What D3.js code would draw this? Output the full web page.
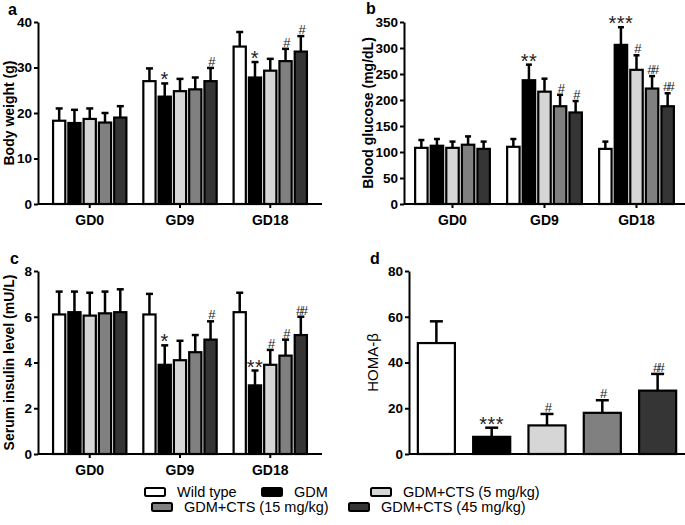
<!DOCTYPE html>
<html><head><meta charset="utf-8">
<script src="https://cdn.jsdelivr.net/npm/d3@7"></script>
<style>body{margin:0;background:#fff}svg{display:block}text{font-family:"Liberation Sans",Arial,sans-serif}</style>
</head><body><svg id="c" width="685" height="525"></svg>
<script>
const groups = ["GD0","GD9","GD18"];
const series = ["Wild type","GDM","GDM+CTS (5 mg/kg)","GDM+CTS (15 mg/kg)","GDM+CTS (45 mg/kg)"];
const fills = ["#ffffff","#000000","#d6d6d6","#808080","#353535"];

// panel a: body weight (g) — values[group][series]
const bwMean = [[18.3,17.8,18.7,17.9,19.0],[27.0,23.6,24.8,25.2,27.0],[34.6,27.8,29.3,31.4,33.5]];
const bwErr  = [[2.7,2.9,2.3,2.1,2.5],[2.8,2.9,2.7,2.6,2.9],[3.2,3.4,2.6,2.7,3.4]];
const bwSig  = [["","","","",""],["","*","","","#"],["","*","","#","#"]];
// panel b: blood glucose (mg/dL)
const bgMean = [[108,112,108,114,106],[110,238,216,188,176],[106,306,258,222,188]];
const bgErr  = [[15,13,12,16,14],[15,30,25,22,22],[14,34,28,24,25]];
const bgSig  = [["","","","",""],["","**","","#","#"],["","***","#","##","##"]];
// panel c: serum insulin level (mU/L)
const siMean = [[6.1,6.2,6.05,6.15,6.2],[6.1,3.9,4.1,4.45,5.0],[6.2,3.0,3.9,4.3,5.2]];
const siErr  = [[1.0,0.9,1.0,0.95,1.0],[0.9,0.85,0.85,0.75,0.8],[0.85,0.65,0.65,0.7,0.8]];
const siSig  = [["","","","",""],["","*","","","#"],["","**","#","#","##"]];
// panel d: HOMA-β
const hbMean = [48.5,7.5,12.5,18.0,27.7];
const hbErr  = [9.5,4.0,5.0,5.5,7.3];
const hbSig  = ["","***","#","#","##"];

const svg = d3.select("#c");

function yAxis(g, y, ticks){
  const ax = g.append("g").call(d3.axisLeft(y).tickValues(ticks).tickSize(4).tickPadding(2).tickSizeOuter(0));
  ax.select(".domain").attr("stroke","#000").attr("stroke-width",2);
  ax.selectAll(".tick line").attr("stroke","#000").attr("stroke-width",2);
  ax.selectAll(".tick text").attr("font-size",13.5).attr("font-weight","bold").attr("fill","#000");
  return ax;
}

function sigLabel(g, cx, capY, sg){
  if(!sg) return;
  const star = sg[0]==="*";
  g.append("text").attr("x",cx).attr("y",star ? capY+3 : capY-2).attr("text-anchor","middle")
    .attr("font-size",star?20:13).attr("fill","#222")
    .attr("letter-spacing",star?"0.5px":"-2.5px").text(sg);
}

function groupedPanel(o){
  const g = svg.append("g");
  const y = d3.scaleLinear().domain([0,o.max]).range([o.y0,o.y1]);
  const x0 = d3.scaleBand().domain(groups).range([o.xr0,o.xr1]).paddingInner(0.12).paddingOuter(0.06);
  const x1 = d3.scaleBand().domain(series).range([0,x0.bandwidth()]).padding(0.2);
  groups.forEach((gr,gi)=>{
    series.forEach((s,si)=>{
      const v = o.mean[gi][si], e = o.err[gi][si];
      const bx = x0(gr)+x1(s), bw = x1.bandwidth(), cx = bx+bw/2;
      g.append("line").attr("x1",cx).attr("x2",cx).attr("y1",y(v)).attr("y2",y(v+e)).attr("stroke","#000").attr("stroke-width",2.5);
      g.append("line").attr("x1",cx-o.cap).attr("x2",cx+o.cap).attr("y1",y(v+e)).attr("y2",y(v+e)).attr("stroke","#000").attr("stroke-width",2.5);
      g.append("rect").attr("x",bx).attr("y",y(v)).attr("width",bw).attr("height",y(0)-y(v))
        .attr("fill",fills[si]).attr("stroke","#000").attr("stroke-width",2.2);
      sigLabel(g, cx, y(v+e), o.sig[gi][si]);
    });
  });
  // x axis
  g.append("line").attr("x1",o.ax).attr("x2",o.axEnd).attr("y1",y(0)).attr("y2",y(0)).attr("stroke","#000").attr("stroke-width",2);
  groups.forEach(gr=>{
    const cx = x0(gr)+x0.bandwidth()/2;
    g.append("line").attr("x1",cx).attr("x2",cx).attr("y1",y(0)).attr("y2",y(0)+4).attr("stroke","#000").attr("stroke-width",2);
    g.append("text").attr("x",cx).attr("y",y(0)+21).attr("text-anchor","middle").attr("font-size",14).attr("font-weight","bold").text(gr);
  });
  const ya = g.append("g").attr("transform",`translate(${o.ax},0)`);
  yAxis(ya, y, o.ticks);
  g.append("text").attr("transform",`translate(${o.tx},${(o.y0+o.y1)/2}) rotate(-90)`).attr("text-anchor","middle")
    .attr("font-size",14).attr("font-weight","bold").text(o.title);
  g.append("text").attr("x",o.lx).attr("y",o.ly).attr("font-size",16).attr("font-weight","bold").text(o.letter);
}

groupedPanel({mean:bwMean,err:bwErr,sig:bwSig,max:40,ticks:[0,10,20,30,40],y0:204,y1:22,xr0:44.6,xr1:315.4,ax:38,axEnd:322,cap:3.5,
  title:"Body weight (g)",tx:14,letter:"a",lx:8,ly:15});
groupedPanel({mean:bgMean,err:bgErr,sig:bgSig,max:350,ticks:[0,50,100,150,200,250,300,350],y0:204,y1:22,xr0:406.5,xr1:682.5,ax:404,axEnd:685,cap:3,
  title:"Blood glucose (mg/dL)",tx:373,letter:"b",lx:366,ly:14});
groupedPanel({mean:siMean,err:siErr,sig:siSig,max:8,ticks:[0,2,4,6,8],y0:454,y1:271,xr0:44.6,xr1:315.4,ax:38,axEnd:322,cap:3.5,
  title:"Serum insulin level (mU/L)",tx:14,letter:"c",lx:10,ly:264});

// panel d
(function(){
  const g = svg.append("g");
  const y = d3.scaleLinear().domain([0,80]).range([454,271]);
  const x = d3.scaleBand().domain(series).range([409,685]).paddingInner(0.33).paddingOuter(0.16);
  series.forEach((s,i)=>{
    const v = hbMean[i], e = hbErr[i], bx = x(s), bw = x.bandwidth(), cx = bx+bw/2;
    g.append("line").attr("x1",cx).attr("x2",cx).attr("y1",y(v)).attr("y2",y(v+e)).attr("stroke","#000").attr("stroke-width",2.5);
    g.append("line").attr("x1",cx-6.5).attr("x2",cx+6.5).attr("y1",y(v+e)).attr("y2",y(v+e)).attr("stroke","#000").attr("stroke-width",2.5);
    g.append("rect").attr("x",bx).attr("y",y(v)).attr("width",bw).attr("height",y(0)-y(v))
      .attr("fill",fills[i]).attr("stroke","#000").attr("stroke-width",2.2);
    sigLabel(g, cx, y(v+e), hbSig[i]);
  });
  g.append("line").attr("x1",409).attr("x2",685).attr("y1",y(0)).attr("y2",y(0)).attr("stroke","#000").attr("stroke-width",2);
  const ya = g.append("g").attr("transform","translate(409,0)");
  yAxis(ya, y, [0,20,40,60,80]);
  g.append("text").attr("transform",`translate(378,${(454+271)/2}) rotate(-90)`).attr("text-anchor","middle")
    .attr("font-size",15).attr("font-weight","500").text("HOMA-β");
  g.append("text").attr("x",370).attr("y",264).attr("font-size",16).attr("font-weight","bold").text("d");
})();

// legend
const legendPos = [[145,492],[262,492],[371,492],[152,507],[349,507]];
series.forEach((s,i)=>{
  const [lx,ly] = legendPos[i];
  svg.append("rect").attr("x",lx).attr("y",ly-4).attr("width",20).attr("height",8).attr("rx",1.5)
    .attr("fill",fills[i]).attr("stroke","#000").attr("stroke-width",2);
  svg.append("text").attr("x",lx+32).attr("y",ly+5).attr("font-size",14.5).text(s);
});
</script></body></html>
